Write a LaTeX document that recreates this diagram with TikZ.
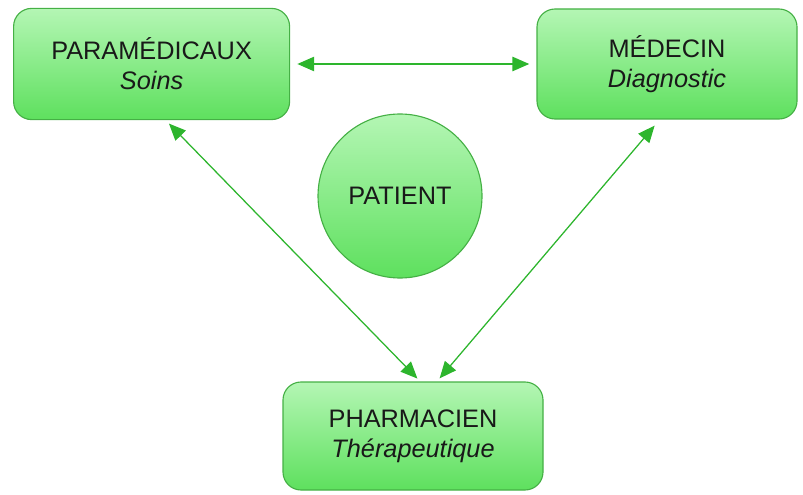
\documentclass[tikz,border=0pt]{standalone}
\usepackage{fontspec}
\setmainfont{Liberation Sans}
\usepackage{tikz}
\usetikzlibrary{
    calc,
    arrows.meta,
    positioning
}
\definecolor{boxline}{HTML}{45B045}
\definecolor{boxtop}{HTML}{B4F6B4}
\definecolor{boxbottom}{HTML}{5EE05E}
\definecolor{linkgreen}{HTML}{2DB52D}
\tikzset{
    role/.style={draw=boxline, line width=0.8pt, rounded corners=0.45cm,
        top color=boxtop, bottom color=boxbottom, text=black!90,
        align=center, inner sep=0pt,
        font=\fontsize{18}{21.5}\selectfont},
    link/.style={linkgreen, line width=0.9pt,
        {Triangle[length=0.42cm,width=0.36cm]}-{Triangle[length=0.42cm,width=0.36cm]}}
}

\begin{document}
\begin{tikzpicture}
    \useasboundingbox (0,0) rectangle (20.075,12.35);

    \node[role, minimum width=6.9cm, minimum height=2.78cm] (para) at (3.79,10.75)
        {PARAMÉDICAUX\\\textit{Soins}};
    \node[role, minimum width=6.5cm, minimum height=2.75cm] (med) at (16.675,10.75)
        {MÉDECIN\\\textit{Diagnostic}};
    \node[role, minimum width=6.5cm, minimum height=2.7cm] (pharm) at (10.325,1.45)
        {PHARMACIEN\\\textit{Thérapeutique}};
    \node[role, circle, minimum size=4.1cm] (patient) at (10.0,7.45) {PATIENT};

    % liens entre les soignants
    \draw[link, shorten <=0.18cm, shorten >=0.18cm] (para.east) -- (med.west);
    \draw[link, shorten <=0.12cm, shorten >=0.1cm]
        ([xshift=0.35cm]para.south) -- ([xshift=0.18cm]pharm.north);
    \draw[link, shorten <=0.2cm, shorten >=0.1cm]
        ([xshift=-0.18cm]med.south) -- ([xshift=0.6cm]pharm.north);

\end{tikzpicture}
\end{document}
